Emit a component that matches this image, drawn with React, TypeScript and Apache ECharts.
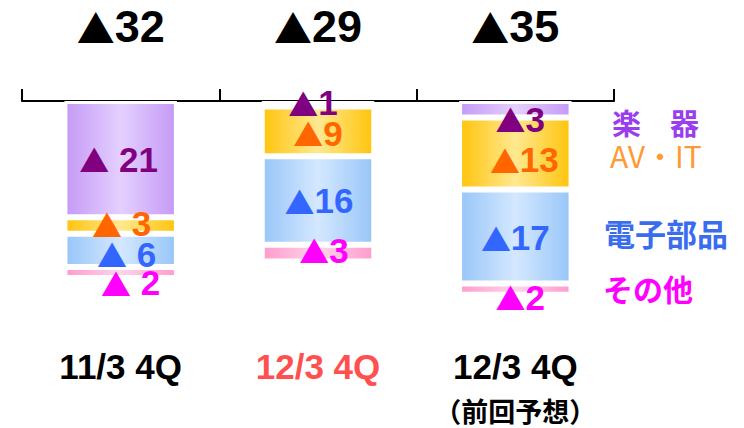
import React, { useEffect, useRef } from "react";
import * as echarts from "echarts";

// ---- data ----
const categories = ["11/3 4Q", "12/3 4Q", "12/3 4Q"];
const categoryNotes = ["", "", "（前回予想）"];
const seriesNames = ["楽　器", "AV・IT", "電子部品", "その他"];
const gakki = [21, 1, 3];
const avit = [3, 9, 13];
const denshi = [6, 16, 17];
const sonota = [2, 3, 2];

// ---- styles ----
const LATIN = "'Liberation Sans', Arial, sans-serif";
const CJK = "'Noto Sans CJK JP', sans-serif";

const segStyles = [
  { edge: "#c59af6", mid: "#e4d0ff", text: "#800080", legend: "#9a3cf0" },
  { edge: "#ffc40c", mid: "#ffe890", text: "#ff6600", legend: "#ff9933" },
  { edge: "#98c6f8", mid: "#d4e8ff", text: "#3366ff", legend: "#3a6cf0" },
  { edge: "#ff9ccb", mid: "#ffd4ea", text: "#ff00ff", legend: "#ff00ff" },
];
// label nudges [dx, dy] per series per category
const labelNudge = [
  [[-2, 0], [-5, -1], [5, 10]],
  [[1, -2], [0, 2], [9, 6]],
  [[6, 4], [1, 0], [0, 1]],
  [[10, 10], [6, -3], [5, 8]],
];
const legendPos = [
  { x: 612, y: 122, size: 29, weight: "bold" },
  { x: 610, y: 155, size: 30, weight: "normal" },
  { x: 604, y: 233, size: 31, weight: "bold" },
  { x: 603, y: 288, size: 30, weight: "bold" },
];

export default function App() {
  const ref = useRef<HTMLDivElement>(null);
  useEffect(() => {
    const chart = echarts.init(ref.current!, null, { renderer: "svg" });
    const seriesData = [gakki, avit, denshi, sonota];
    const totals = categories.map((_, i) =>
      seriesData.reduce((s, arr) => s + arr[i], 0)
    );
    const option: any = {
      animation: false,
      backgroundColor: "#fff",
      grid: { left: 22, right: 130, top: 101, height: 249, containLabel: false },
      xAxis: [
        {
          type: "category",
          position: "top",
          data: categories,
          boundaryGap: true,
          axisLine: { show: true, lineStyle: { color: "#000", width: 2 } },
          axisTick: { show: true, length: 12, lineStyle: { color: "#000", width: 2 } },
          axisLabel: {
            show: true,
            margin: 55,
            formatter: (_v: string, i: number) => `{t|▲}{n|${totals[i]}}`,
            rich: {
              t: { fontFamily: CJK, fontSize: 38, lineHeight: 40, color: "#000" },
              n: { fontFamily: LATIN, fontWeight: "bold", fontSize: 45, lineHeight: 40, color: "#000" },
            },
          },
          splitLine: { show: false },
        },
        {
          type: "category",
          position: "bottom",
          data: categories,
          axisLine: { show: false },
          axisTick: { show: false },
          axisLabel: {
            show: true,
            margin: 0,
            formatter: (v: string, i: number) => {
              const key = i === 1 ? "r" : "a";
              return categoryNotes[i]
                ? `{${key}|${v}}\n{b|${categoryNotes[i]}}`
                : `{${key}|${v}}`;
            },
            rich: {
              a: { fontFamily: LATIN, fontWeight: "bold", fontSize: 35, lineHeight: 33, color: "#000" },
              r: { fontFamily: LATIN, fontWeight: "bold", fontSize: 35, lineHeight: 33, color: "#ff5050" },
              b: { fontFamily: CJK, fontWeight: "bold", fontSize: 27, lineHeight: 54, color: "#000" },
            },
          },
        },
      ],
      yAxis: {
        type: "value",
        inverse: true,
        min: 0,
        max: 45,
        show: false,
      },
      series: seriesData.map((arr, si) => ({
        type: "bar",
        name: seriesNames[si],
        stack: "loss",
        xAxisIndex: 0,
        barWidth: "57%",
        itemStyle: {
          color: new echarts.graphic.LinearGradient(0, 0, 1, 0, [
            { offset: 0, color: segStyles[si].edge },
            { offset: 0.5, color: segStyles[si].mid },
            { offset: 1, color: segStyles[si].edge },
          ]),
          borderColor: "#fff",
          borderWidth: 3,
        },
        label: {
          show: true,
          position: "inside",
          formatter: (p: any) =>
            p.dataIndex === 0 ? `{t|▲}{n| ${p.value}}` : `{t|▲}{n|${p.value}}`,
          rich: {
            t: { fontFamily: CJK, fontSize: 30, lineHeight: 24, color: segStyles[si].text },
            n: {
              fontFamily: LATIN,
              fontWeight: "bold",
              fontSize: 35,
              lineHeight: 24,
              color: segStyles[si].text,
            },
          },
        },
        data: arr.map((v, i) => ({ value: v, label: { offset: labelNudge[si][i] } })),
      })),
      graphic: seriesNames.map((n, si) => ({
        type: "text",
        left: legendPos[si].x,
        top: legendPos[si].y - legendPos[si].size / 2,
        style: {
          text: n,
          fill: segStyles[si].legend,
          font: `${legendPos[si].weight} ${legendPos[si].size}px ${CJK}`,
          lineHeight: legendPos[si].size - 4,
        },
      })),
    };
    chart.setOption(option);
    return () => chart.dispose();
  }, []);
  return (
    <div
      ref={ref}
      style={{ position: "fixed", left: 0, top: 0, width: 744, height: 428 }}
    />
  );
}
